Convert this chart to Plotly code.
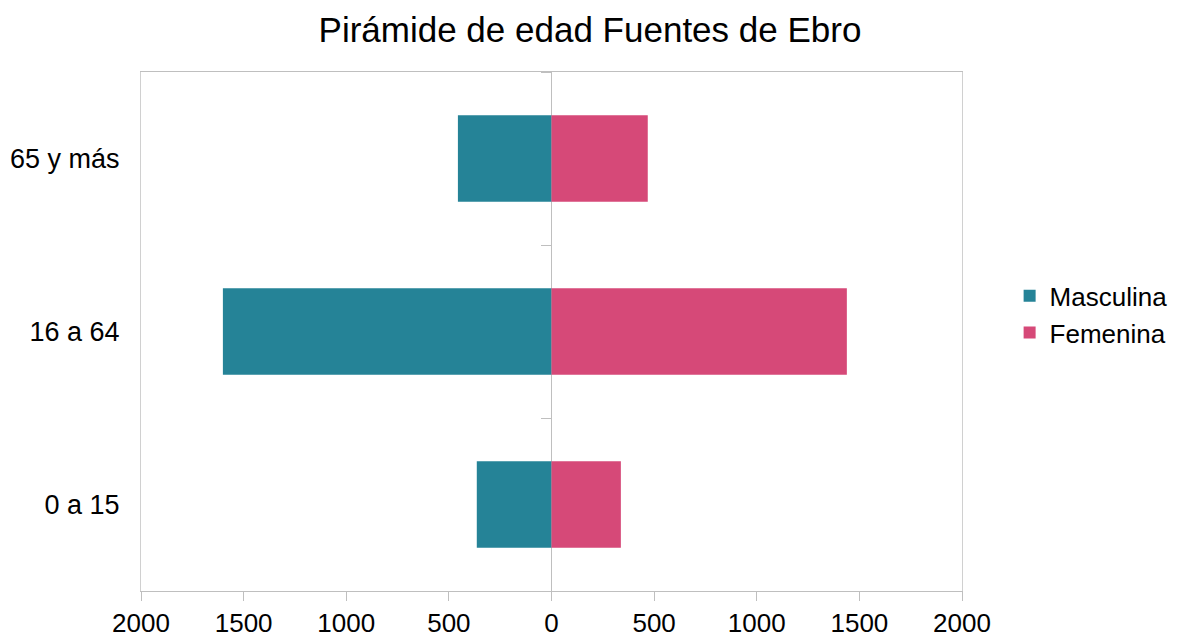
import plotly.graph_objects as go

categories = ["0 a 15", "16 a 64", "65 y más"]
masculina = [364, 1601, 456]
femenina = [338, 1439, 469]
tick_vals = [-2000, -1500, -1000, -500, 0, 500, 1000, 1500, 2000]
tick_text = ["2000", "1500", "1000", "500", "0", "500", "1000", "1500", "2000"]

FONT = "Liberation Sans, Arial, sans-serif"
TEAL = "#258397"
PINK = "#d64978"

fig = go.Figure()
fig.add_trace(go.Bar(
    y=categories, x=[-v for v in masculina], orientation="h", name="Masculina",
    marker=dict(color=TEAL, line=dict(width=0)),
    customdata=masculina, hovertemplate="%{y}: %{customdata}<extra>Masculina</extra>",
))
fig.add_trace(go.Bar(
    y=categories, x=femenina, orientation="h", name="Femenina",
    marker=dict(color=PINK, line=dict(width=0)),
))
# invisible helper trace for the central axis with boundary ticks
fig.add_trace(go.Scatter(
    y=categories, x=[0] * len(categories), yaxis="y2", mode="markers",
    marker=dict(opacity=0), showlegend=False, hoverinfo="skip",
))

fig.update_layout(
    width=1180, height=639,
    margin=dict(l=133, r=226, t=64, b=56, autoexpand=False),
    paper_bgcolor="white", plot_bgcolor="white",
    barmode="relative", bargap=0.5,
    title=dict(text="Pirámide de edad Fuentes de Ebro", x=0.4932, xanchor="center",
               y=0.9656, yanchor="middle", xref="container", yref="container",
               font=dict(family=FONT, size=35, color="black")),
    font=dict(family=FONT, size=27, color="black"),
    legend=dict(x=1.058, xanchor="left", y=0.533, yanchor="middle",
                font=dict(family=FONT, size=26, color="black"),
                itemwidth=30, tracegroupgap=0, bgcolor="rgba(0,0,0,0)",
                borderwidth=0),
    xaxis=dict(range=[-2000, 2000], tickvals=tick_vals, ticktext=tick_text,
               showgrid=False, zeroline=True, zerolinecolor="#bfbfbf", zerolinewidth=1,
               showline=True, linecolor="#bfbfbf", linewidth=1, mirror=True,
               ticks="outside", ticklen=9, tickcolor="#bfbfbf", automargin=False,
               ticklabelstandoff=0,
               tickfont=dict(family=FONT, size=26, color="black"), fixedrange=True),
    yaxis=dict(type="category", categoryarray=categories, range=[-0.5, 2.5],
               showgrid=False, zeroline=False, automargin=False,
               showline=True, linecolor="#d0d0d0", linewidth=1, mirror=True,
               ticks="", ticklabelstandoff=15,
               tickfont=dict(family=FONT, size=27, color="black")),
    yaxis2=dict(type="category", categoryarray=categories, range=[-0.5, 2.5],
                overlaying="y", anchor="free", position=0.5, side="left",
                showgrid=False, zeroline=False, showline=False, automargin=False,
                ticks="outside", tickson="boundaries", ticklen=11, tickcolor="#bfbfbf",
                showticklabels=False),
)

fig.write_html("out.html")
